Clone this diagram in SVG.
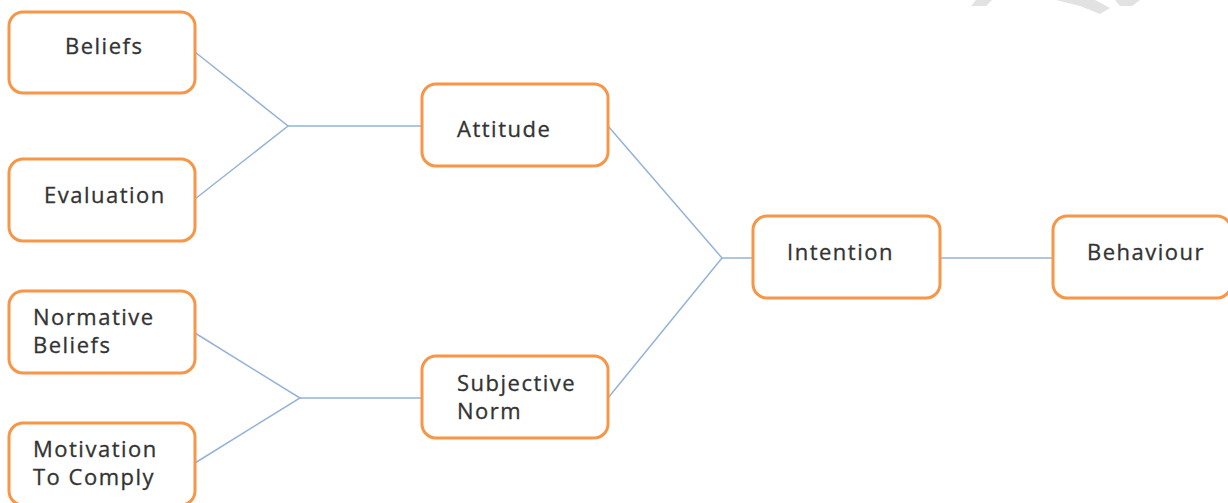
<svg xmlns="http://www.w3.org/2000/svg" width="1228" height="503" viewBox="0 0 1228 503">
<style>
.box{fill:#ffffff;stroke:#F79646;stroke-width:3}
.lbl{font-family:"Open Sans","Liberation Sans",sans-serif;font-size:22px;letter-spacing:1.5px;fill:#333333;stroke:#333333;stroke-width:0.3}
.con{stroke:#95B3D7;stroke-width:1.5;fill:none}
.wm{fill:#e2e2e2}
</style>
<rect width="1228" height="503" fill="#ffffff"/>
<g id="watermark">
<polygon class="wm" points="976,0 992,0 986,6 971,6"/>
<polygon class="wm" points="1056,0 1095,0 1110,8 1100,14 1080,6"/>
<polygon class="wm" points="1115,0 1140,0 1132,6 1120,6"/>
</g>
<g id="connectors">
<polyline class="con" points="195,52 288,126 195,199"/>
<line class="con" x1="288" y1="126" x2="422" y2="126"/>
<polyline class="con" points="195,333 300,398 195,463"/>
<line class="con" x1="300" y1="398" x2="422" y2="398"/>
<polyline class="con" points="608,126 722,258 608,398"/>
<line class="con" x1="722" y1="258" x2="753" y2="258"/>
<line class="con" x1="940" y1="258" x2="1053" y2="258"/>
</g>
<g id="beliefs">
<rect class="box" x="9" y="12" width="186" height="81" rx="14"/>
<text class="lbl" x="65" y="54">Beliefs</text>
</g>
<g id="evaluation">
<rect class="box" x="9" y="159" width="186" height="82" rx="14"/>
<text class="lbl" x="44" y="203">Evaluation</text>
</g>
<g id="normative-beliefs">
<rect class="box" x="9" y="291" width="186" height="82" rx="14"/>
<text class="lbl" x="33" y="325">Normative</text>
<text class="lbl" x="33" y="353">Beliefs</text>
</g>
<g id="motivation">
<rect class="box" x="9" y="423" width="186" height="82" rx="14"/>
<text class="lbl" x="33" y="457">Motivation</text>
<text class="lbl" x="33" y="485">To Comply</text>
</g>
<g id="attitude">
<rect class="box" x="422" y="84" width="186" height="82" rx="14"/>
<text class="lbl" x="457" y="137">Attitude</text>
</g>
<g id="subjective-norm">
<rect class="box" x="422" y="356" width="186" height="82" rx="14"/>
<text class="lbl" x="457" y="391">Subjective</text>
<text class="lbl" x="457" y="419">Norm</text>
</g>
<g id="intention">
<rect class="box" x="753" y="216" width="187" height="82" rx="14"/>
<text class="lbl" x="787" y="260">Intention</text>
</g>
<g id="behaviour">
<rect class="box" x="1053" y="216" width="178" height="82" rx="14"/>
<text class="lbl" x="1087" y="260">Behaviour</text>
</g>
</svg>
